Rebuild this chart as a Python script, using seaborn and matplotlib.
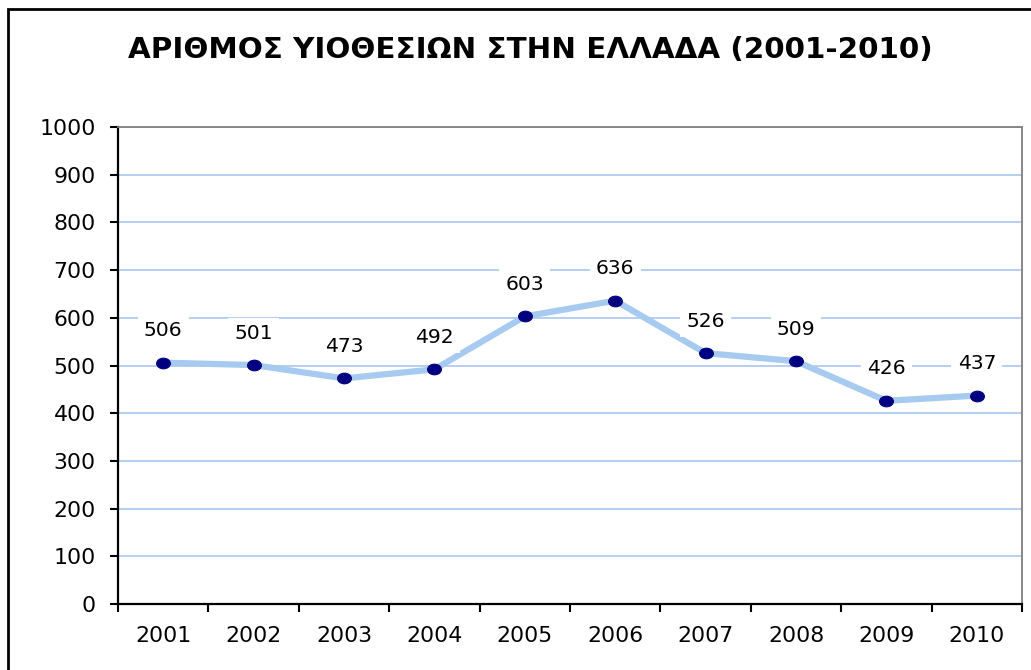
import matplotlib
matplotlib.use("Agg")
import matplotlib.pyplot as plt
import matplotlib.patches as patches
from matplotlib.path import Path
from matplotlib.transforms import Affine2D
import numpy as np
import pandas as pd
import seaborn as sns

# Data
years = ['2001', '2002', '2003', '2004', '2005', '2006', '2007', '2008', '2009', '2010']
adoptions = [506, 501, 473, 492, 603, 636, 526, 509, 426, 437]
y_ticks = [0, 100, 200, 300, 400, 500, 600, 700, 800, 900, 1000]
title = 'ΑΡΙΘΜΟΣ ΥΙΟΘΕΣΙΩΝ ΣΤΗΝ ΕΛΛΑΔΑ (2001-2010)'

df = pd.DataFrame({'year': years, 'count': adoptions})
df['pos'] = np.arange(len(df))

sns.set_style('white')
plt.rcParams['font.family'] = ['DejaVu Sans']
plt.rcParams['text.color'] = 'black'

fig = plt.figure(figsize=(10.31, 6.70), dpi=100)
ax = fig.add_axes([0.1145, 0.0985, 0.8768, 0.7119])

# slightly flattened circle for the markers
ellipse = Path.unit_circle().transformed(Affine2D().scale(1.3, 1.0))

sns.lineplot(data=df, x='pos', y='count', ax=ax, color='#A6CAF0', linewidth=4.5,
             marker=ellipse, markersize=10, markerfacecolor='#000080',
             markeredgecolor='#000080', zorder=3)

# data labels with white boxes
for _, row in df.iterrows():
    ax.annotate(str(row['count']), (row['pos'], row['count']), xytext=(0, 23),
                textcoords='offset points', ha='center', va='center', fontsize=14.6,
                color='black', zorder=5,
                bbox=dict(boxstyle='square,pad=0.3', fc='white', ec='none'))

ax.set_xlim(-0.5, len(years) - 0.5)
ax.set_ylim(0, 1000)
ax.set_yticks(y_ticks)
ax.set_xticks(df['pos'])
ax.set_xticklabels(years)
ax.set_xticks(np.arange(-0.5, len(years)), minor=True)

ax.yaxis.grid(True, color='#B0CCF0', linewidth=1.3)
ax.xaxis.grid(False)
ax.set_axisbelow(True)

ax.tick_params(axis='x', which='major', length=0, pad=16, labelsize=15.8, colors='black')
ax.tick_params(axis='x', which='minor', length=6, width=1.5, direction='out', color='black', bottom=True)
ax.tick_params(axis='y', length=6, width=1.5, direction='out', pad=10, labelsize=15.8,
               colors='black', left=True)

for side in ['left', 'bottom']:
    ax.spines[side].set_color('black')
    ax.spines[side].set_linewidth(1.6)
for side in ['top', 'right']:
    ax.spines[side].set_visible(True)
    ax.spines[side].set_color('#808080')
    ax.spines[side].set_linewidth(1.3)

ax.set_xlabel('')
ax.set_ylabel('')

fig.text(0.514, 0.925, title, ha='center', va='center', fontsize=21.2,
         fontweight='bold', color='black')

# outer chart border (only left and top edges are visible)
fig.patches.append(patches.Rectangle((0.0075, -0.05), 1.2, 0.9866 + 0.05, transform=fig.transFigure,
                                     fill=False, edgecolor='black', linewidth=2))

fig.savefig('out.png', dpi=100)
